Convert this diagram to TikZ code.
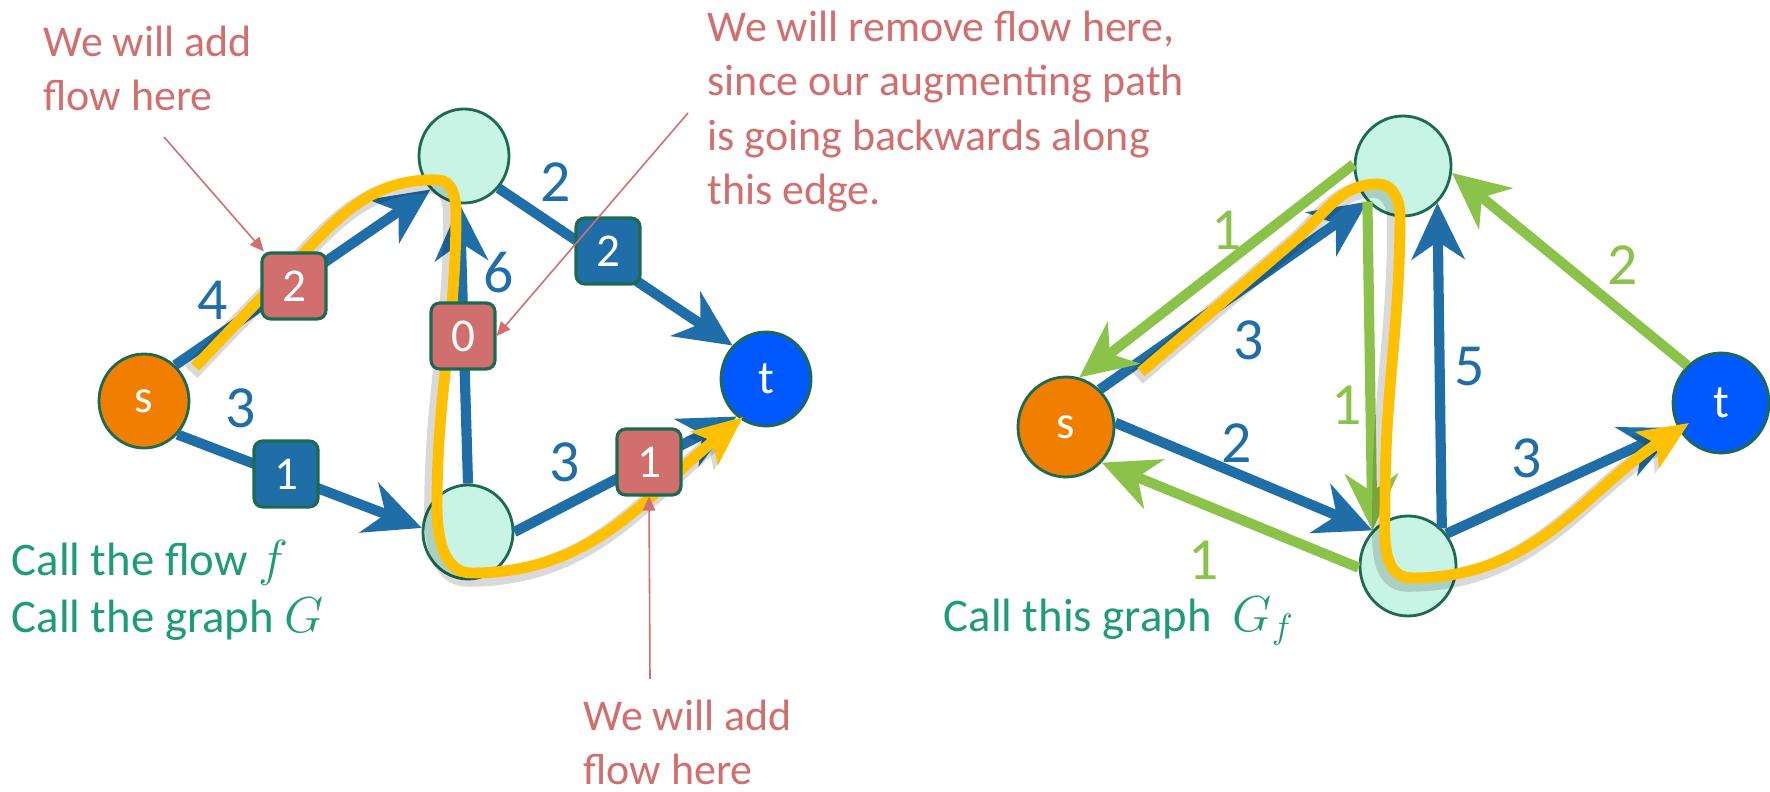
\documentclass[tikz,border=0pt]{standalone}
\usepackage{fontspec}
\setmainfont{Carlito}
\usetikzlibrary{arrows.meta,shapes.geometric}
\definecolor{capblue}{HTML}{1F6EA8}
\definecolor{resgreen}{HTML}{8BC34A}
\definecolor{gold}{HTML}{FFC000}
\definecolor{rose}{HTML}{D16E6E}
\definecolor{callgreen}{HTML}{1E9B77}
\definecolor{mint}{HTML}{C8F4E6}
\definecolor{rim}{HTML}{1C6B50}
\definecolor{srcorange}{HTML}{F07F00}
\definecolor{sinkblue}{HTML}{0059FF}

\begin{document}
\begin{tikzpicture}[font=\fontsize{12.5}{15.5}\selectfont,
    vtx/.style={ellipse,draw=rim,line width=0.8pt,fill=mint,inner sep=0pt,
                minimum width=0.9cm,minimum height=0.94cm,text=white,
                font=\fontsize{13.4}{16}\selectfont},
    big/.style={minimum width=0.96cm,minimum height=1cm},
    fbox/.style={draw=rim,line width=0.9pt,rounded corners=2.5pt,inner sep=0pt,
                 minimum width=0.64cm,minimum height=0.66cm,text=white,
                 font=\fontsize{13.4}{16}\selectfont},
    cedge/.style={-{Stealth[length=16pt,width=15pt,inset=5pt]},line width=2.9pt,capblue},
    redge/.style={cedge,resgreen},
    lab/.style={font=\fontsize{17}{20}\selectfont,inner sep=0pt},
    note/.style={rose,align=left,anchor=north west,inner sep=0pt},
    call/.style={callgreen,align=left,anchor=north west,inner sep=0pt,
                 font=\fontsize{13.3}{16}\selectfont},
    pointer/.style={-{Triangle[length=4pt,width=3.5pt]},line width=0.45pt,rose},
    aug/.style={-{Stealth[length=14pt,width=12pt,inset=3pt]},line width=3.1pt,gold,
                preaction={draw=black,opacity=.15,line width=5pt,
                           transform canvas={shift={(-0.04,-0.05)}}}}]
  \useasboundingbox (0,0) rectangle (17.70,-7.92);

  % flow f on G
  \node[vtx,fill=srcorange] (ls) at (1.44,-4.01) {s};
  \node[vtx] (lu) at (4.64,-1.56) {};
  \node[vtx] (ld) at (4.68,-5.32) {};
  \node[vtx,fill=sinkblue] (lt) at (7.66,-3.79) {t};
  \foreach \a/\b in {ls.49/lu.225,ls.-45/ld.175,lu.-43/lt.135,ld.90/lu.265,ld.0/lt.232}
    \draw[cedge] (\a) -- (\b);

  \draw[aug] (1.95,-3.67) -- (3.02,-2.55) to[out=47,in=178] (4.38,-1.80)
    to[out=0,in=90] (4.56,-2.12) to[out=-90,in=90] (4.37,-5.05)
    to[out=-90,in=180] (4.72,-5.73) to[out=0,in=219] (7.43,-4.17);

  \node[fbox,fill=rose] (fsu) at (2.94,-2.86) {2};
  \node[fbox,fill=rose] (fdu) at (4.63,-3.36) {0};
  \node[fbox,fill=capblue] (fut) at (6.08,-2.51) {2};
  \node[fbox,fill=capblue] (fsd) at (2.86,-4.74) {1};
  \node[fbox,fill=rose] (fdt) at (6.49,-4.62) {1};

  \node[lab,capblue] (c1) at (2.13,-3.00) {4};
  \node[lab,capblue] (c2) at (2.41,-4.08) {3};
  \node[lab,capblue] (c3) at (5.56,-1.82) {2};
  \node[lab,capblue] (c4) at (4.99,-2.73) {6};
  \node[lab,capblue] (c5) at (5.65,-4.62) {3};

  \node[note] (addtop) at (0.43,-0.25) {We will add\\flow here};
  \node[note] (remove) at (7.07,-0.10)
       {We will remove flow here,\\since our augmenting path\\is going backwards along\\this edge.};
  \node[note] (addbot) at (5.83,-6.99) {We will add\\flow here};
  \coordinate (p1) at (1.64,-1.37);
  \coordinate (p2) at (6.88,-1.13);
  \coordinate (p3) at (6.50,-6.79);
  \draw[pointer] (p1) -- (fsu);
  \draw[pointer] (p2) -- (fdu.east);
  \draw[pointer] (p3) -- (fdt.south);

  \node[call] (callG) at (0.11,-5.40) {Call the flow $f$\\Call the graph $G$};

  % residual graph G_f
  \node[vtx,big,fill=srcorange] (rs) at (10.66,-4.27) {s};
  \node[vtx,big] (ru) at (14.03,-1.66) {};
  \node[vtx,big] (rd) at (14.08,-5.66) {};
  \node[vtx,big,fill=sinkblue] (rt) at (17.21,-4.03) {t};
  \foreach \a/\b in {rs.48/ru.225,rs.5/rd.135,rd.48/ru.-47,rd.40/rt.210}
    \draw[cedge] (\a) -- (\b);
  \foreach \a/\b in {ru.178/rs.75,rd.182/rs.-45,ru.225/rd.135,rt.132/ru.-8}
    \draw[redge] (\a) -- (\b);

  \draw[aug] (11.41,-3.72) -- (12.95,-2.40) to[out=40,in=180] (13.78,-1.84)
    to[out=0,in=90] (14.00,-2.15) to[out=-90,in=90] (13.85,-5.00)
    to[out=-90,in=180] (14.12,-5.78) to[out=0,in=213] (16.89,-4.23);

  \node[lab,resgreen] (g1) at (12.27,-2.30) {1};
  \node[lab,capblue] (g2) at (12.49,-3.40) {3};
  \node[lab,capblue] (g3) at (14.70,-3.67) {5};
  \node[lab,resgreen] (g4) at (16.23,-2.65) {2};
  \node[lab,resgreen] (g5) at (13.47,-4.05) {1};
  \node[lab,capblue] (g6) at (12.37,-4.43) {2};
  \node[lab,capblue] (g7) at (15.27,-4.58) {3};
  \node[lab,resgreen] (g8) at (12.04,-5.60) {1};

  \node[call] (callGf) at (9.43,-5.96)
       {Call this graph\ \ {\fontsize{14}{16}\selectfont$G_f$}};
\end{tikzpicture}
\end{document}
